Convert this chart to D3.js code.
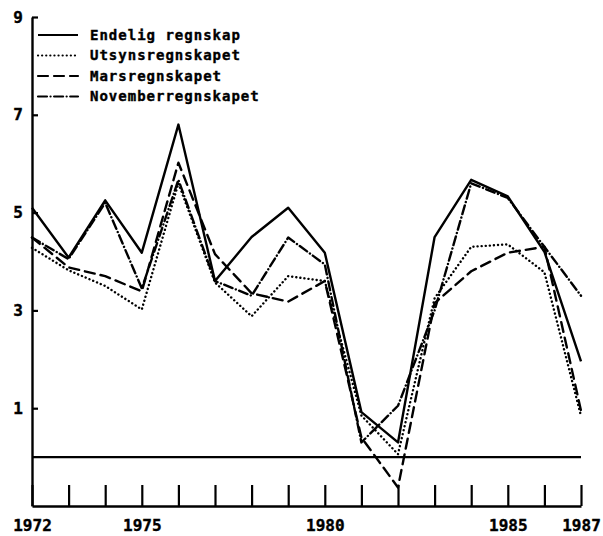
<!DOCTYPE html>
<html>
<head>
<meta charset="utf-8">
<script src="https://cdn.jsdelivr.net/npm/d3@7"></script>
<style>
  body { margin: 0; background: #fff; }
  text { font-family: "DejaVu Sans Mono", monospace; font-weight: bold; stroke: #000; stroke-width: 0.4px; }
</style>
</head>
<body>
<div id="chart"></div>
<script>
// years on the x axis
var years = [1972, 1973, 1974, 1975, 1976, 1977, 1978, 1979, 1980, 1981, 1982, 1983, 1984, 1985, 1986, 1987];
var year_labels = [1972, 1975, 1980, 1985, 1987];
var y_ticks = [1, 3, 5, 7, 9];

// one array per series
var endelig   = [5.1, 4.08, 5.25, 4.18, 6.8, 3.6, 4.5, 5.1, 4.18, 0.92, 0.3, 4.5, 5.67, 5.33, 4.2, 1.96];
var utsyn     = [4.28, 3.82, 3.5, 3.02, 5.6, 3.57, 2.88, 3.7, 3.6, 0.85, 0.06, 3.25, 4.3, 4.35, 3.78, 0.84];
var mars      = [4.49, 3.88, 3.7, 3.39, 6.02, 4.15, 3.35, 3.18, 3.6, 0.4, -0.62, 3.15, 3.8, 4.18, 4.3, 0.95];
var november  = [4.49, 4.05, 5.2, 3.45, 5.67, 3.6, 3.3, 4.49, 3.94, 0.3, 1.05, 3.0, 5.6, 5.3, 4.3, 3.3];

var series_names = ["Endelig regnskap", "Utsynsregnskapet", "Marsregnskapet", "Novemberregnskapet"];
var series_values = [endelig, utsyn, mars, november];
var dash_map = {
  "Endelig regnskap": null,
  "Utsynsregnskapet": "0.1,4",
  "Marsregnskapet": "10,6",
  "Novemberregnskapet": "9,3.5,0.1,3.5"
};

var svg = d3.select("#chart")
  .append("svg")
    .attr("width", 603)
    .attr("height", 536);

var x = d3.scaleLinear().domain([1972, 1987]).range([32, 581]);
var y = d3.scaleLinear().domain([-1, 9]).range([506, 17]);

// Y axis, ticks pointing into the plot
svg.append("g")
  .attr("transform", "translate(32,0)")
  .call(d3.axisLeft(y).tickValues(y_ticks).tickSizeInner(-6).tickSizeOuter(0).tickPadding(9).tickFormat(d3.format("d")))
  .call(function(g) {
    g.select(".domain").attr("stroke-width", 2.4);
    g.selectAll(".tick line").attr("stroke-width", 2.2);
    g.selectAll("text").style("font-size", "16px");
  });

// X axis, ticks pointing up
svg.append("g")
  .attr("transform", "translate(0,506)")
  .call(d3.axisBottom(x).tickValues(years).tickSizeInner(-21).tickSizeOuter(0).tickPadding(14)
    .tickFormat(function(d) { return year_labels.includes(d) ? d : ""; }))
  .call(function(g) {
    g.select(".domain").attr("stroke-width", 2.4);
    g.selectAll(".tick line").attr("stroke-width", 2.2);
    g.selectAll("text").style("font-size", "16px");
  });

// zero line
svg.append("line")
  .attr("x1", x(1972)).attr("x2", x(1987))
  .attr("y1", y(0)).attr("y2", y(0))
  .attr("stroke", "#000")
  .attr("stroke-width", 2.2);

var line = d3.line()
  .x(function(d, i) { return x(years[i]); })
  .y(function(d) { return y(d); });

for (let i = 0; i < series_names.length; i++) {
  var name = series_names[i];
  svg.append("path")
    .datum(series_values[i])
    .attr("d", line)
    .attr("fill", "none")
    .attr("stroke", "#000")
    .attr("stroke-width", i == 0 ? 2.4 : 2.4)
    .attr("stroke-linejoin", "round")
    .attr("stroke-linecap", i == 0 ? "butt" : "round")
    .attr("stroke-dasharray", dash_map[name]);
}

// legend
var lg = svg.append("g");
lg.selectAll("mylines")
  .data(series_names)
  .enter()
  .append("line")
    .attr("x1", 38)
    .attr("x2", 78)
    .attr("y1", function(d, i) { return 35 + i * 20.5; })
    .attr("y2", function(d, i) { return 35 + i * 20.5; })
    .attr("stroke", "#000")
    .attr("stroke-width", 2.2)
    .attr("stroke-linecap", function(d, i) { return i == 0 ? "butt" : "round"; })
    .attr("stroke-dasharray", function(d) { return dash_map[d]; });

lg.selectAll("mylabels")
  .data(series_names)
  .enter()
  .append("text")
    .attr("x", 90)
    .attr("y", function(d, i) { return 35 + i * 20.5; })
    .attr("dy", "0.35em")
    .attr("letter-spacing", "1px")
    .style("font-size", "14px")
    .text(function(d) { return d; });
</script>
</body>
</html>
